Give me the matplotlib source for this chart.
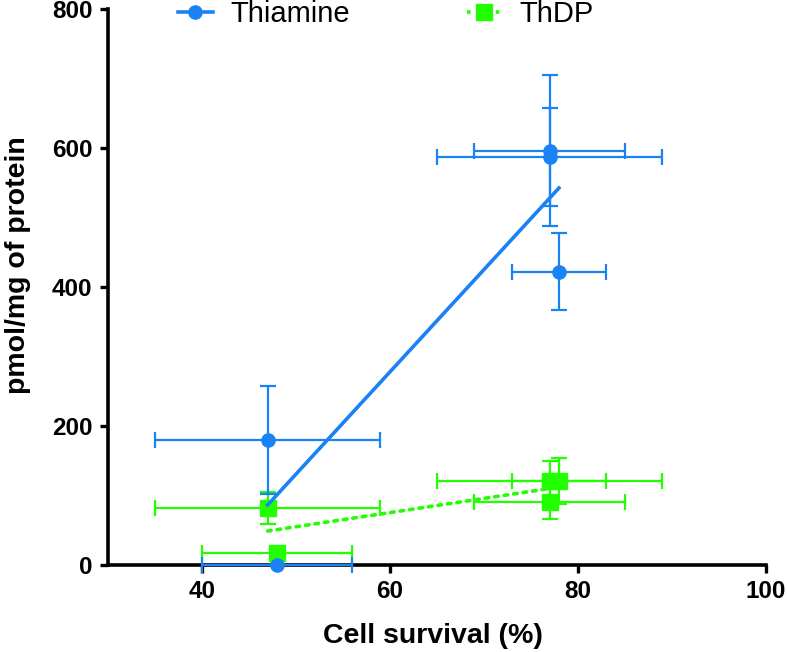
import numpy as np
import matplotlib
matplotlib.use('Agg')
import matplotlib.pyplot as plt
from matplotlib.lines import Line2D

plt.rcParams['font.family'] = ['Liberation Sans', 'DejaVu Sans']

BLUE = '#1a82f5'
GREEN = '#22ff00'

# Thiamine
thia_x = [48, 47, 77, 77, 78]
thia_xerr = [8, 12, 8, 12, 5]
thia_y = [0, 180, 596, 587, 422]
thia_yerr = [0, 78, 109, 70, 55]

# ThDP
thdp_x = [48, 47, 77, 77, 78]
thdp_xerr = [8, 12, 8, 12, 5]
thdp_y = [17, 82, 91, 121, 121]
thdp_yerr = [3, 23, 25, 29, 33]

xticks = [40, 60, 80, 100]
yticks = [0, 200, 400, 600, 800]

fig = plt.figure(figsize=(7.87, 6.52), dpi=100)
ax = fig.add_axes([0.137, 0.1334, 0.836, 0.853])

ax.errorbar(thdp_x, thdp_y, xerr=thdp_xerr, yerr=thdp_yerr, fmt='s', color=GREEN,
            ms=11.5, elinewidth=1.6, capsize=5.5, capthick=1.6, clip_on=False, zorder=3)
ax.errorbar(thia_x, thia_y, xerr=thia_xerr, yerr=thia_yerr, fmt='o', color=BLUE,
            ms=9.5, elinewidth=1.6, capsize=5.5, capthick=1.6, clip_on=False, zorder=4)

# linear fits
for xs, ys, col, ls in [(thia_x, thia_y, BLUE, '-'), (thdp_x, thdp_y, GREEN, ':')]:
    k, b = np.polyfit(xs, ys, 1)
    xx = np.array([min(xs), max(xs)])
    ax.plot(xx, k * xx + b, color=col, lw=2.6, ls=ls, zorder=5,
            dash_capstyle='round')

ax.set_xlim(30, 100)
ax.set_ylim(0, 800)
ax.set_xticks(xticks)
ax.set_yticks(yticks)
ax.spines['top'].set_visible(False)
ax.spines['right'].set_visible(False)
for s in ['left', 'bottom']:
    ax.spines[s].set_linewidth(2.6)
ax.tick_params(width=2.4, length=6, labelsize=17.5, pad=5)
for lab in ax.get_xticklabels() + ax.get_yticklabels():
    lab.set_fontweight('bold')

ax.set_xlabel('Cell survival (%)', fontsize=20.5, fontweight='bold')
ax.xaxis.set_label_coords(0.494, -0.105)
ax.set_ylabel('pmol/mg of protein', fontsize=20.5, fontweight='bold')
ax.yaxis.set_label_coords(-0.117, 0.54)

handles = [
    Line2D([], [], color=BLUE, marker='o', ms=9.5, lw=2.6, ls='-'),
    Line2D([], [], color=GREEN, marker='s', ms=11.5, lw=2.6, ls=':'),
]
fig.legend(handles, ['Thiamine', 'ThDP'], loc='center', ncol=2,
           bbox_to_anchor=(0.49, 0.978), frameon=False, fontsize=21,
           handlelength=1.2, columnspacing=4.0, handletextpad=0.6)

fig.savefig('out.png', dpi=100)
